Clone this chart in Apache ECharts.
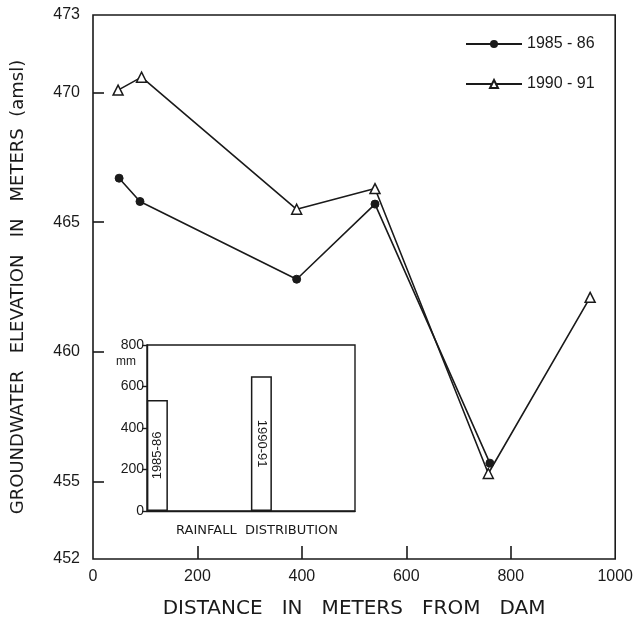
<!DOCTYPE html>
<html>
<head>
<meta charset="utf-8">
<script src="https://cdn.jsdelivr.net/npm/echarts@6/dist/echarts.min.js"></script>
<style>
html,body{margin:0;padding:0;background:#fff;}
#c{width:636px;height:624px;}
</style>
</head>
<body>
<div id="c"></div>
<script>
// Main chart data
const distance8586 = [50, 90, 390, 540, 760];
const elev8586 = [466.7, 465.8, 462.8, 465.7, 455.7];
const distance9091 = [48, 93, 390, 540, 757, 952];
const elev9091 = [470.1, 470.6, 465.5, 466.3, 455.3, 462.1];
const seriesNames = ['1985 - 86', '1990 - 91'];
const yLabelValues = [452, 455, 460, 465, 470, 473];
const yTickValues = [455, 460, 465, 470];
const xTickValues = [200, 400, 600, 800];

// Inset rainfall data
const rainSlots = ['1985-86', 's1', 's2', 's3', 's4', '1990-91', 's6', 's7', 's8', 's9'];
const rainValues = [535, null, null, null, null, 650, null, null, null, null];
const rainBarLabels = {'1985-86': 90, '1990-91': -90};

const FONT = '"Liberation Sans", Arial, sans-serif';
const TFONT = '"DejaVu Sans", sans-serif';
const INK = '#1a1a1a';

const chart = echarts.init(document.getElementById('c'), null, {renderer: 'canvas'});

function pairs(xs, ys) { return xs.map((x, i) => [x, ys[i]]); }

const option = {
  backgroundColor: '#ffffff',
  animation: false,
  legend: {
    orient: 'vertical',
    left: 460,
    top: 31,
    itemWidth: 56,
    itemHeight: 10,
    itemGap: 24,
    textStyle: {fontFamily: FONT, fontSize: 16, color: INK},
    data: seriesNames
  },
  grid: [
    {left: 93, right: 16, top: 15, bottom: 63, show: true, borderColor: INK, borderWidth: 1.6, backgroundColor: 'transparent'},
    {left: 147, top: 345, width: 208, height: 166, show: true, borderColor: INK, borderWidth: 1.4, backgroundColor: '#fff'}
  ],
  xAxis: [
    {
      type: 'value', gridIndex: 0, min: 0, max: 1000, interval: 200,
      axisLine: {show: false},
      splitLine: {show: false},
      axisTick: {show: true, inside: true, length: 13, lineStyle: {color: INK, width: 1.6}, customValues: xTickValues},
      axisLabel: {fontFamily: FONT, fontSize: 16, color: INK, margin: 10, formatter: v => String(v)},
      name: 'DISTANCE   IN   METERS   FROM   DAM',
      nameLocation: 'middle', nameGap: 40,
      nameTextStyle: {fontFamily: TFONT, fontSize: 20, color: INK}
    },
    {
      type: 'category', gridIndex: 1, data: rainSlots,
      axisLine: {show: true, lineStyle: {color: INK, width: 1.4}},
      axisTick: {show: false},
      axisLabel: {show: false},
      name: 'RAINFALL  DISTRIBUTION',
      nameLocation: 'middle', nameGap: 13,
      nameTextStyle: {fontFamily: TFONT, fontSize: 13, color: INK, padding: [0, 0, 0, 12]}
    }
  ],
  yAxis: [
    {
      type: 'value', gridIndex: 0, min: 452, max: 473,
      axisLine: {show: false},
      splitLine: {show: false},
      axisTick: {show: true, inside: true, length: 11, lineStyle: {color: INK, width: 1.6}, customValues: yTickValues},
      axisLabel: {fontFamily: FONT, fontSize: 16, color: INK, margin: 13, customValues: yLabelValues},
      name: 'GROUNDWATER   ELEVATION   IN   METERS  (amsl)',
      nameLocation: 'middle', nameGap: 66,
      nameTextStyle: {fontFamily: TFONT, fontSize: 18, color: INK}
    },
    {
      type: 'value', gridIndex: 1, min: 0, max: 800, interval: 200,
      axisLine: {show: true, lineStyle: {color: INK, width: 1.4}},
      splitLine: {show: false},
      axisTick: {show: true, inside: false, length: 5, lineStyle: {color: INK, width: 1.4}},
      axisLabel: {fontFamily: FONT, fontSize: 14, color: INK, margin: 3}
    }
  ],
  graphic: [
    {type: 'text', left: 116, top: 356, style: {text: 'mm', font: '12px ' + FONT, fill: INK}}
  ],
  series: [
    {
      name: seriesNames[0], type: 'line', xAxisIndex: 0, yAxisIndex: 0,
      data: pairs(distance8586, elev8586),
      symbol: 'circle', symbolSize: 8,
      lineStyle: {color: INK, width: 1.6},
      itemStyle: {color: INK, borderColor: INK}
    },
    {
      name: seriesNames[1], type: 'line', xAxisIndex: 0, yAxisIndex: 0,
      data: pairs(distance9091, elev9091),
      symbol: 'triangle', symbolSize: 10,
      lineStyle: {color: INK, width: 1.6},
      itemStyle: {color: '#fff', borderColor: INK, borderWidth: 1.5}
    },
    {
      name: 'rainfall', type: 'bar', xAxisIndex: 1, yAxisIndex: 1,
      barWidth: 21,
      itemStyle: {color: '#fff', borderColor: INK, borderWidth: 1.5},
      label: {
        show: true, position: 'inside',
        fontFamily: FONT, fontSize: 13, color: INK,
        formatter: p => rainSlots[p.dataIndex]
      },
      data: rainValues.map((v, i) => v == null ? v : {value: v, label: {rotate: rainBarLabels[rainSlots[i]]}})
    }
  ]
};

chart.setOption(option);
</script>
</body>
</html>
